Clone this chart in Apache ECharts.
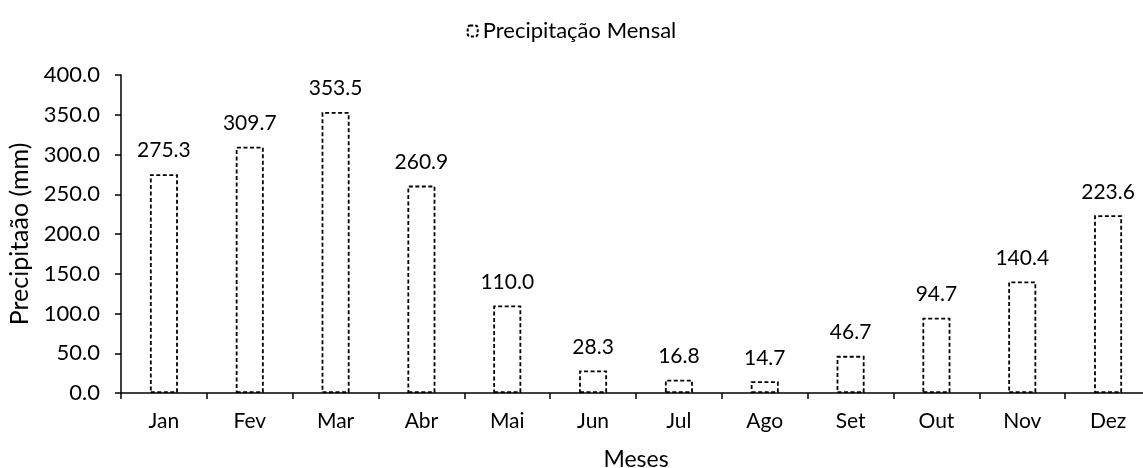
<!DOCTYPE html>
<html>
<head>
<meta charset="utf-8">
<script src="https://cdn.jsdelivr.net/npm/echarts@6/dist/echarts.min.js"></script>
<style>html,body{margin:0;padding:0;background:#fff}#c{width:1143px;height:468px}</style>
</head>
<body>
<div id="c"></div>
<script>
const categories = ['Jan','Fev','Mar','Abr','Mai','Jun','Jul','Ago','Set','Out','Nov','Dez'];
const precipitacao = [275.3, 309.7, 353.5, 260.9, 110.0, 28.3, 16.8, 14.7, 46.7, 94.7, 140.4, 223.6];
const seriesName = 'Precipitação Mensal';
const yTicks = [0, 50, 100, 150, 200, 250, 300, 350, 400];

const FONT = 'Lato, "Open Sans", sans-serif';
const chart = echarts.init(document.getElementById('c'), null, {renderer: 'canvas'});
chart.setOption({
  animation: false,
  backgroundColor: '#fff',
  textStyle: {fontFamily: FONT, color: '#000'},
  legend: {
    top: 15, left: 'center',
    itemWidth: 10, itemHeight: 11, itemGap: 4,
    textStyle: {fontSize: 22, color: '#000', fontFamily: FONT},
    data: [{name: seriesName, itemStyle: {color: '#fff', borderColor: '#000', borderWidth: 2, borderType: [3, 2]}}]
  },
  grid: {left: 121, top: 75, width: 1030, height: 318, containLabel: false, outerBoundsMode: 'none'},
  xAxis: {
    type: 'category',
    data: categories,
    name: 'Meses',
    nameLocation: 'middle',
    nameGap: 55,
    nameTextStyle: {fontSize: 23, color: '#000', fontFamily: FONT},
    axisLine: {lineStyle: {color: '#000', width: 1.5}},
    axisTick: {show: true, alignWithLabel: false, length: 6, lineStyle: {color: '#000', width: 1.5}},
    axisLabel: {fontSize: 21, color: '#000', margin: 18, fontFamily: FONT}
  },
  yAxis: {
    type: 'value',
    min: yTicks[0], max: yTicks[yTicks.length - 1], interval: 50,
    name: 'Precipitaão (mm)',
    nameLocation: 'middle',
    nameGap: 88,
    nameRotate: 90,
    nameTextStyle: {fontSize: 25, color: '#000', fontFamily: FONT},
    axisLine: {show: true, lineStyle: {color: '#000', width: 1.5}},
    axisTick: {show: true, length: 6, lineStyle: {color: '#000', width: 1.5}},
    splitLine: {show: false},
    axisLabel: {fontSize: 22, color: '#000', margin: 21, fontFamily: FONT, formatter: v => v.toFixed(1)}
  },
  series: [{
    name: seriesName,
    type: 'bar',
    data: precipitacao,
    barWidth: 28,
    itemStyle: {color: '#fff', borderColor: '#000', borderWidth: 1.8, borderType: [4, 2.5]},
    label: {show: true, position: 'top', distance: 13, fontSize: 21, color: '#000', fontFamily: FONT, formatter: p => p.value.toFixed(1)}
  }]
});
</script>
</body>
</html>
